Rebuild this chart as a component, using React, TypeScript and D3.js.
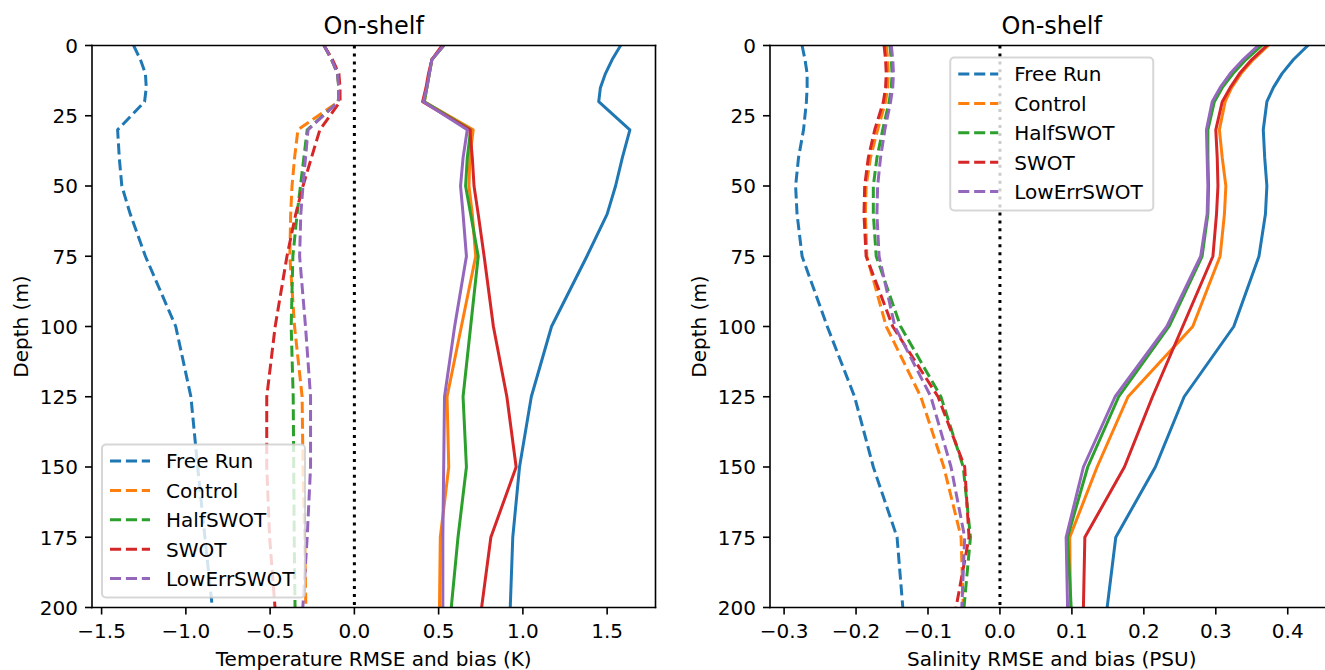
import React from "react";
import * as d3 from "d3";

// ---------------- DATA ----------------
const DEPTH = [0, 5, 10, 15, 20, 30, 40, 50, 60, 75, 100, 125, 150, 175, 200];
const EXPERIMENTS = ["Free Run", "Control", "HalfSWOT", "SWOT", "LowErrSWOT"];
const COLORS = ["#1f77b4", "#ff7f0e", "#2ca02c", "#d62728", "#9467bd"];

// Temperature bias (dashed), K
const TEMP_BIAS_FREE_RUN = [-1.31, -1.27, -1.24, -1.235, -1.245, -1.405, -1.395, -1.38, -1.33, -1.24, -1.06, -0.97, -0.93, -0.887, -0.843];
const TEMP_BIAS_CONTROL = [-0.18, -0.135, -0.1, -0.092, -0.095, -0.335, -0.355, -0.37, -0.378, -0.383, -0.355, -0.31, -0.305, -0.295, -0.288];
const TEMP_BIAS_HALFSWOT = [-0.18, -0.135, -0.1, -0.092, -0.095, -0.28, -0.3, -0.32, -0.34, -0.365, -0.375, -0.363, -0.36, -0.357, -0.352];
const TEMP_BIAS_SWOT = [-0.18, -0.13, -0.092, -0.085, -0.085, -0.205, -0.255, -0.305, -0.348, -0.4, -0.47, -0.52, -0.52, -0.503, -0.471];
const TEMP_BIAS_LOWERR = [-0.18, -0.135, -0.1, -0.092, -0.095, -0.275, -0.29, -0.305, -0.318, -0.325, -0.29, -0.26, -0.26, -0.28, -0.306];

// Temperature RMSE (solid), K
const TEMP_RMSE_FREE_RUN = [1.58, 1.53, 1.49, 1.46, 1.45, 1.635, 1.59, 1.55, 1.5, 1.38, 1.17, 1.05, 0.98, 0.94, 0.925];
const TEMP_RMSE_CONTROL = [0.53, 0.46, 0.445, 0.43, 0.415, 0.705, 0.685, 0.68, 0.7, 0.72, 0.635, 0.55, 0.56, 0.51, 0.505];
const TEMP_RMSE_HALFSWOT = [0.53, 0.46, 0.445, 0.43, 0.415, 0.69, 0.67, 0.66, 0.69, 0.735, 0.69, 0.645, 0.665, 0.615, 0.575];
const TEMP_RMSE_SWOT = [0.52, 0.46, 0.44, 0.425, 0.405, 0.685, 0.7, 0.71, 0.735, 0.77, 0.825, 0.905, 0.96, 0.81, 0.755];
const TEMP_RMSE_LOWERR = [0.53, 0.46, 0.445, 0.43, 0.41, 0.67, 0.645, 0.63, 0.645, 0.665, 0.595, 0.535, 0.53, 0.525, 0.525];

// Salinity bias (dashed), PSU
const SAL_BIAS_FREE_RUN = [-0.275, -0.271, -0.268, -0.268, -0.269, -0.273, -0.28, -0.284, -0.282, -0.275, -0.24, -0.202, -0.176, -0.143, -0.135];
const SAL_BIAS_CONTROL = [-0.158, -0.156, -0.155, -0.156, -0.159, -0.17, -0.18, -0.186, -0.187, -0.185, -0.158, -0.11, -0.078, -0.054, -0.051];
const SAL_BIAS_HALFSWOT = [-0.153, -0.151, -0.15, -0.151, -0.154, -0.163, -0.171, -0.176, -0.176, -0.172, -0.138, -0.082, -0.051, -0.041, -0.05];
const SAL_BIAS_SWOT = [-0.161, -0.159, -0.158, -0.159, -0.162, -0.174, -0.183, -0.188, -0.189, -0.186, -0.149, -0.086, -0.049, -0.043, -0.061];
const SAL_BIAS_LOWERR = [-0.151, -0.149, -0.148, -0.149, -0.152, -0.16, -0.166, -0.17, -0.171, -0.168, -0.146, -0.096, -0.068, -0.049, -0.053];

// Salinity RMSE (solid), PSU
const SAL_RMSE_FREE_RUN = [0.428, 0.408, 0.392, 0.38, 0.371, 0.366, 0.368, 0.371, 0.369, 0.36, 0.325, 0.256, 0.216, 0.161, 0.149];
const SAL_RMSE_CONTROL = [0.373, 0.352, 0.335, 0.322, 0.313, 0.305, 0.309, 0.314, 0.312, 0.306, 0.268, 0.178, 0.135, 0.097, 0.098];
const SAL_RMSE_HALFSWOT = [0.364, 0.342, 0.324, 0.309, 0.298, 0.289, 0.289, 0.29, 0.289, 0.281, 0.235, 0.165, 0.122, 0.094, 0.099];
const SAL_RMSE_SWOT = [0.371, 0.35, 0.333, 0.32, 0.309, 0.3, 0.302, 0.303, 0.301, 0.296, 0.254, 0.212, 0.173, 0.118, 0.116];
const SAL_RMSE_LOWERR = [0.359, 0.338, 0.32, 0.306, 0.295, 0.287, 0.288, 0.289, 0.288, 0.279, 0.232, 0.16, 0.116, 0.092, 0.094];

const TEMP_TICKS = [-1.5, -1.0, -0.5, 0.0, 0.5, 1.0, 1.5];
const SAL_TICKS = [-0.3, -0.2, -0.1, 0.0, 0.1, 0.2, 0.3, 0.4];
const DEPTH_TICKS = [0, 25, 50, 75, 100, 125, 150, 175, 200];

const TITLE = "On-shelf";
const TEMP_XLABEL = "Temperature RMSE and bias (K)";
const SAL_XLABEL = "Salinity RMSE and bias (PSU)";
const YLABEL = "Depth (m)";

// ---------------- STYLE ----------------
const FONT = "'DejaVu Sans', Verdana, sans-serif";
const W = 1325;
const H = 670;
const Y0 = 45.5;
const Y1 = 607.5;
const AX_W = 563.5;
const LW = 3;
const DASH = "11.1,4.8";

const fmt = (v: number) => d3.format(".1f")(v).replace("-", "\u2212");

type PanelProps = {
  id: string;
  x0: number;
  biases: number[][];
  rmses: number[][];
  ticks: number[];
  xlabel: string;
  legend: "lowerleft" | "uppercenter";
};

function Panel({ id, x0, biases, rmses, ticks, xlabel, legend }: PanelProps) {
  const x1 = x0 + AX_W;
  const all = [...biases.flat(), ...rmses.flat()];
  const [mn, mx] = d3.extent(all) as [number, number];
  const m = (mx - mn) * 0.05;
  const x = d3.scaleLinear().domain([mn - m, mx + m]).range([x0, x1]);
  const y = d3.scaleLinear().domain([0, 200]).range([Y0, Y1]);
  const line = d3
    .line<number>()
    .x((v) => x(v))
    .y((_, i) => y(DEPTH[i]));
  const cx = (x0 + x1) / 2;
  const cy = (Y0 + Y1) / 2;

  const legW = 203;
  const legH = 153;
  const legX = legend === "lowerleft" ? x0 + 10 : cx - legW / 2;
  const legY = legend === "lowerleft" ? Y1 - 10 - legH : Y0 + 12;

  return (
    <g>
      <defs>
        <clipPath id={`clip-${id}`}>
          <rect x={x0} y={Y0} width={AX_W} height={Y1 - Y0} />
        </clipPath>
      </defs>
      <g clipPath={`url(#clip-${id})`}>
        <line
          x1={x(0)}
          x2={x(0)}
          y1={Y0}
          y2={Y1}
          stroke="#000"
          strokeWidth={LW}
          strokeDasharray="3,4.95"
        />
        {EXPERIMENTS.map((name, i) => (
          <g key={name}>
            <path
              d={line(biases[i]) || ""}
              fill="none"
              stroke={COLORS[i]}
              strokeWidth={LW}
              strokeDasharray={DASH}
              strokeLinejoin="round"
              strokeLinecap="butt"
            />
            <path
              d={line(rmses[i]) || ""}
              fill="none"
              stroke={COLORS[i]}
              strokeWidth={LW}
              strokeLinejoin="round"
              strokeLinecap="square"
            />
          </g>
        ))}
      </g>
      {/* spines */}
      <line x1={x0} x2={x1} y1={Y0} y2={Y0} stroke="#000" strokeWidth={1.6} strokeLinecap="square" />
      <line x1={x0} x2={x1} y1={Y1} y2={Y1} stroke="#000" strokeWidth={1.6} strokeLinecap="square" />
      <line x1={x0} x2={x0} y1={Y0} y2={Y1} stroke="#000" strokeWidth={1.6} strokeLinecap="square" />
      <line x1={x1} x2={x1} y1={Y0} y2={Y1} stroke="#000" strokeWidth={1.6} strokeLinecap="square" />
      {/* x ticks */}
      {ticks.map((t) => (
        <g key={t}>
          <line x1={x(t)} x2={x(t)} y1={Y1} y2={Y1 + 7} stroke="#000" strokeWidth={1.6} />
          <text x={x(t)} y={638} textAnchor="middle" fontSize={20} fontFamily={FONT} fill="#000">
            {fmt(t)}
          </text>
        </g>
      ))}
      {/* y ticks */}
      {DEPTH_TICKS.map((t) => (
        <g key={t}>
          <line x1={x0 - 7} x2={x0} y1={y(t)} y2={y(t)} stroke="#000" strokeWidth={1.6} />
          <text x={x0 - 14} y={y(t) + 7.3} textAnchor="end" fontSize={20} fontFamily={FONT} fill="#000">
            {t}
          </text>
        </g>
      ))}
      <text x={cx} y={34} textAnchor="middle" fontSize={24} fontFamily={FONT} fill="#000">
        {TITLE}
      </text>
      <text x={cx} y={666} textAnchor="middle" fontSize={20} fontFamily={FONT} fill="#000">
        {xlabel}
      </text>
      <text
        transform={`translate(${x0 - 64},${cy}) rotate(-90)`}
        textAnchor="middle"
        fontSize={20}
        fontFamily={FONT}
        fill="#000"
      >
        {YLABEL}
      </text>
      {/* legend */}
      <g>
        <rect
          x={legX}
          y={legY}
          width={legW}
          height={legH}
          rx={4}
          ry={4}
          fill="#fff"
          fillOpacity={0.8}
          stroke="#ccc"
          strokeOpacity={0.8}
          strokeWidth={2}
        />
        {EXPERIMENTS.map((name, i) => {
          const ry = legY + 16.5 + i * 29.4;
          return (
            <g key={name}>
              <line
                x1={legX + 8}
                x2={legX + 48}
                y1={ry}
                y2={ry}
                stroke={COLORS[i]}
                strokeWidth={LW}
                strokeDasharray={DASH}
              />
              <text x={legX + 64} y={ry + 7.3} fontSize={20} fontFamily={FONT} fill="#000">
                {name}
              </text>
            </g>
          );
        })}
      </g>
    </g>
  );
}

export default function App() {
  return (
    <div style={{ position: "absolute", left: 0, top: 0, width: W, height: H, overflow: "hidden", background: "#fff" }}>
      <svg width={W} height={H} viewBox={`0 0 ${W} ${H}`} style={{ display: "block" }}>
        <rect x={0} y={0} width={W} height={H} fill="#fff" />
        <Panel
          id="temp"
          x0={92}
          biases={[TEMP_BIAS_FREE_RUN, TEMP_BIAS_CONTROL, TEMP_BIAS_HALFSWOT, TEMP_BIAS_SWOT, TEMP_BIAS_LOWERR]}
          rmses={[TEMP_RMSE_FREE_RUN, TEMP_RMSE_CONTROL, TEMP_RMSE_HALFSWOT, TEMP_RMSE_SWOT, TEMP_RMSE_LOWERR]}
          ticks={TEMP_TICKS}
          xlabel={TEMP_XLABEL}
          legend="lowerleft"
        />
        <Panel
          id="sal"
          x0={770}
          biases={[SAL_BIAS_FREE_RUN, SAL_BIAS_CONTROL, SAL_BIAS_HALFSWOT, SAL_BIAS_SWOT, SAL_BIAS_LOWERR]}
          rmses={[SAL_RMSE_FREE_RUN, SAL_RMSE_CONTROL, SAL_RMSE_HALFSWOT, SAL_RMSE_SWOT, SAL_RMSE_LOWERR]}
          ticks={SAL_TICKS}
          xlabel={SAL_XLABEL}
          legend="uppercenter"
        />
      </svg>
    </div>
  );
}
